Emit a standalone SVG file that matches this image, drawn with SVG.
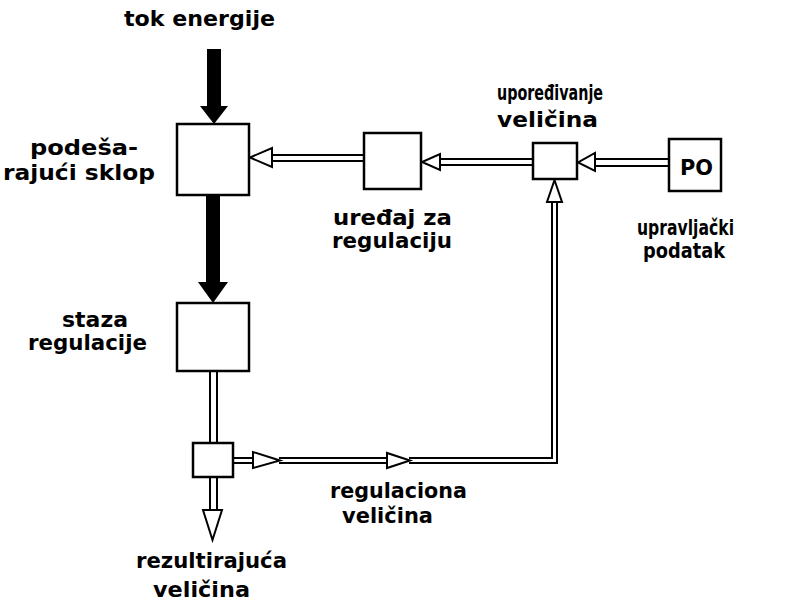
<svg xmlns="http://www.w3.org/2000/svg" width="791" height="606" viewBox="0 0 791 606">
<style>
.box{fill:#fff;stroke:#000;stroke-width:2.5}
.ln{fill:none;stroke:#000;stroke-width:2}
.hd{fill:#fff;stroke:#000;stroke-width:2;stroke-linejoin:miter}
.solid{fill:#000;stroke:none}
text{font-family:"DejaVu Sans","Liberation Sans",sans-serif;font-size:22px;font-weight:bold;fill:#000}
</style>
<rect width="791" height="606" fill="#fff"/>
<g id="connectors">
  <rect class="solid" x="207" y="49" width="14" height="58"/>
  <polygon class="solid" points="200,106 228,106 214,124"/>
  <rect class="solid" x="206" y="195" width="14" height="88"/>
  <polygon class="solid" points="198,282 228,282 213,303"/>
  <line class="ln" x1="210" y1="371" x2="210" y2="443"/>
  <line class="ln" x1="217" y1="371" x2="217" y2="443"/>
  <line class="ln" x1="210" y1="477" x2="210" y2="511"/>
  <line class="ln" x1="217" y1="477" x2="217" y2="511"/>
  <polygon class="hd" points="203,510 222,510 212.5,540"/>
  <line class="ln" x1="233" y1="458" x2="254" y2="458"/>
  <line class="ln" x1="233" y1="463" x2="254" y2="463"/>
  <polygon class="hd" points="253,452 253,468 280,460.5"/>
  <line class="ln" x1="279" y1="458" x2="388" y2="458"/>
  <line class="ln" x1="279" y1="463" x2="388" y2="463"/>
  <polygon class="hd" points="387,453 387,468 410,460.5"/>
  <polyline class="ln" points="409,458 552,458 552,201"/>
  <polyline class="ln" points="409,463 557,463 557,201"/>
  <polygon class="hd" points="547,202 562,202 554.5,180"/>
  <line class="ln" x1="594" y1="159" x2="669" y2="159"/>
  <line class="ln" x1="594" y1="166" x2="669" y2="166"/>
  <polygon class="hd" points="595,153 595,171 578,162.5"/>
  <line class="ln" x1="439" y1="159" x2="533" y2="159"/>
  <line class="ln" x1="439" y1="165" x2="533" y2="165"/>
  <polygon class="hd" points="440,154 440,170 422,162"/>
  <line class="ln" x1="271" y1="155" x2="364" y2="155"/>
  <line class="ln" x1="271" y1="161" x2="364" y2="161"/>
  <polygon class="hd" points="272,148 272,167 250,157.5"/>
</g>
<g id="energy-label">
  <text x="124" y="26" textLength="151" lengthAdjust="spacingAndGlyphs">tok energije</text>
</g>
<g id="podesavajuci-sklop">
  <rect class="box" x="177" y="124" width="72" height="71"/>
  <text x="30" y="155" textLength="108" lengthAdjust="spacingAndGlyphs">podeša-</text>
  <text x="3" y="180" textLength="152" lengthAdjust="spacingAndGlyphs">rajući sklop</text>
</g>
<g id="staza-regulacije">
  <rect class="box" x="177" y="303" width="72" height="68"/>
  <text x="62" y="327" textLength="66" lengthAdjust="spacingAndGlyphs">staza</text>
  <text x="28" y="350" textLength="119" lengthAdjust="spacingAndGlyphs">regulacije</text>
</g>
<g id="merni-cvor">
  <rect class="box" x="193" y="443" width="40" height="34"/>
</g>
<g id="uredjaj-za-regulaciju">
  <rect class="box" x="364" y="133" width="57" height="56"/>
  <text x="333" y="225" textLength="119" lengthAdjust="spacingAndGlyphs">uređaj za</text>
  <text x="332" y="248" textLength="120" lengthAdjust="spacingAndGlyphs">regulaciju</text>
</g>
<g id="uporedjivanje">
  <rect class="box" x="533" y="143" width="44" height="36"/>
  <text x="497" y="100" textLength="106" lengthAdjust="spacingAndGlyphs">upoređivanje</text>
  <text x="497" y="127" textLength="101" lengthAdjust="spacingAndGlyphs">veličina</text>
</g>
<g id="PO">
  <rect class="box" x="669" y="139" width="52" height="52"/>
  <text x="680" y="175" textLength="33" lengthAdjust="spacingAndGlyphs">PO</text>
  <text x="637" y="235" textLength="97" lengthAdjust="spacingAndGlyphs">upravljački</text>
  <text x="643" y="258" textLength="82" lengthAdjust="spacingAndGlyphs">podatak</text>
</g>
<g id="regulaciona-velicina">
  <text x="330" y="498" textLength="137" lengthAdjust="spacingAndGlyphs">regulaciona</text>
  <text x="342" y="523" textLength="91" lengthAdjust="spacingAndGlyphs">veličina</text>
</g>
<g id="rezultirajuca-velicina">
  <text x="136" y="568" textLength="151" lengthAdjust="spacingAndGlyphs">rezultirajuća</text>
  <text x="153" y="597" textLength="97" lengthAdjust="spacingAndGlyphs">veličina</text>
</g>
</svg>
